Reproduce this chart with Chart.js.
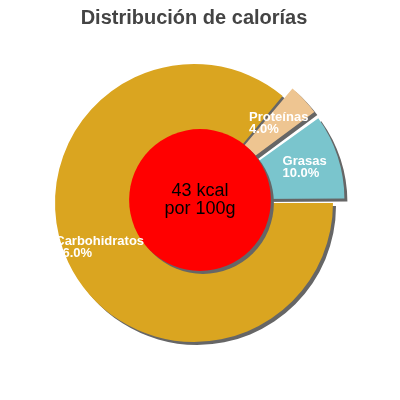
<!DOCTYPE html>
<html>
<head>
<meta charset="utf-8">
<script src="https://cdn.jsdelivr.net/npm/chart.js@4"></script>
<style>
	body { margin: 0; background: #fff; }
	canvas { display: block; }
</style>
</head>
<body>
<canvas id="chart" width="400" height="400"></canvas>
<script>
// values
const categories = ['Carbohidratos', 'Proteínas', 'Grasas'];
const percents = [86.0, 4.0, 10.0];
const kcal = 43;
const per = 'por 100g';

const sliceColors = ['#DAA520', '#EEC591', '#7AC5CD'];
const explode = [0, 12, 12]; // px the slice is pulled out
const FONT = "'Liberation Sans', Arial, sans-serif";

//chart.js pulls the slice out by offset/4 and also grows its radius, undo the growth
const noGrowPlugin = {
	id: 'noGrow',
	afterDatasetUpdate(chart, args) {
		args.meta.data.forEach(arc => {
			var off = (arc.options.offset || 0) / 4;
			var circ = arc.endAngle - arc.startAngle;
			var fix = 1 - Math.sin(Math.min(Math.PI, circ));
			arc.outerRadius -= off * fix;
		});
	}
};

//flat grey shadow under the slices and the centre disc, then labels on top
const decoPlugin = {
	id: 'deco',
	beforeDatasetsDraw(chart) {
		var ctx = chart.ctx;
		ctx.save();
		ctx.shadowColor = '#666666';
		ctx.shadowOffsetX = 3;
		ctx.shadowOffsetY = 3;
		ctx.shadowBlur = 0;
	},
	afterDatasetsDraw(chart) {
		var ctx = chart.ctx;
		ctx.restore();
		var arcs = chart.getDatasetMeta(0).data;
		var R = arcs[0].outerRadius;

		// centre disc sits in the middle of the canvas
		var cx = chart.width / 2, cy = chart.height / 2;
		ctx.save();
		ctx.shadowColor = '#666666';
		ctx.shadowOffsetX = 3;
		ctx.shadowOffsetY = 3;
		ctx.fillStyle = '#FF0000';
		ctx.beginPath();
		ctx.arc(cx, cy, R * 0.51, 0, Math.PI * 2);
		ctx.fill();
		ctx.restore();

		ctx.save();
		ctx.fillStyle = '#000';
		ctx.font = '18px ' + FONT;
		ctx.textAlign = 'center';
		ctx.textBaseline = 'middle';
		ctx.fillText(kcal + ' kcal', cx, cy - 9);
		ctx.fillText(per, cx, cy + 9);
		ctx.restore();

		// slice labels, two left aligned lines centred on 3/4 of the radius
		ctx.save();
		ctx.fillStyle = '#fff';
		ctx.font = 'bold 13px ' + FONT;
		ctx.textAlign = 'left';
		ctx.textBaseline = 'middle';
		arcs.forEach((arc, i) => {
			var mid = (arc.startAngle + arc.endAngle) / 2;
			var off = (arc.options.offset || 0) / 4;
			var r = off + R * 0.75;
			var x = arc.x + Math.cos(mid) * r;
			var y = arc.y + Math.sin(mid) * r;
			var l1 = categories[i];
			var l2 = percents[i].toFixed(1) + '%';
			var w = Math.max(ctx.measureText(l1).width, ctx.measureText(l2).width);
			ctx.fillText(l1, x - w / 2, y - 6);
			ctx.fillText(l2, x - w / 2, y + 6);
		});
		ctx.restore();
	}
};

const data = {
	labels: categories,
	datasets: [{
		data: percents,
		backgroundColor: sliceColors,
		borderWidth: 0,
		offset: explode.map(e => e * 4),
		radius: 139
	}]
};

const config = {
	type: 'pie',
	data,
	options: {
		responsive: false,
		animation: false,
		devicePixelRatio: 1,
		rotation: 90,
		layout: {
			padding: { left: 0, right: 12, top: 0, bottom: 30 }
		},
		plugins: {
			legend: { display: false },
			tooltip: { enabled: false },
			title: {
				display: true,
				text: 'Distribución de calorías',
				color: '#444444',
				font: { family: FONT, size: 20, weight: 'bold', lineHeight: 1.2 },
				padding: { top: 6, bottom: 6 }
			}
		}
	},
	plugins: [noGrowPlugin, decoPlugin]
};

var myChart = new Chart(document.getElementById('chart'), config);
</script>
</body>
</html>
